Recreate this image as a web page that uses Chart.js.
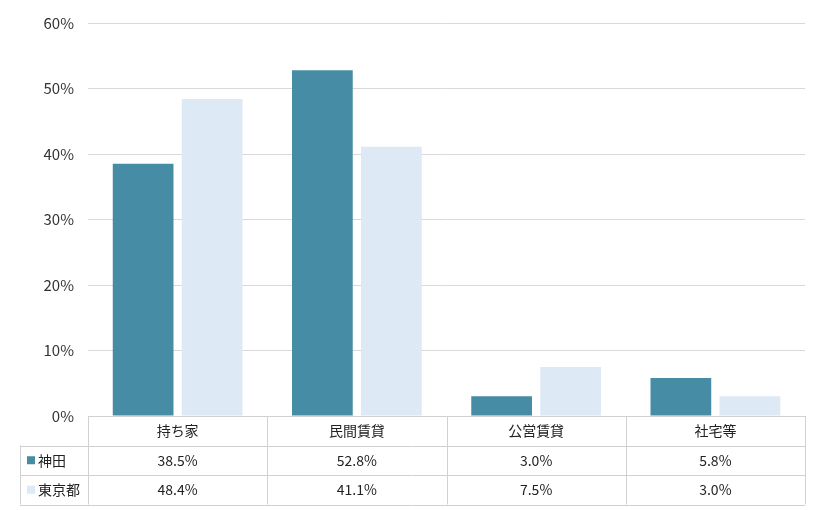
<!DOCTYPE html>
<html><head><meta charset="utf-8">
<script src="https://cdn.jsdelivr.net/npm/chart.js@4"></script>
<style>body{margin:0;background:#fff}#wrap{width:820px;height:510px}</style>
</head><body><div id="wrap"><canvas id="c"></canvas></div>
<script>
const categories = ['持ち家', '民間賃貸', '公営賃貸', '社宅等'];
const kandaValues = [38.5, 52.8, 3.0, 5.8];
const tokyoValues = [48.4, 41.1, 7.5, 3.0];
const seriesNames = ['神田', '東京都'];
const colors = ['#468CA4', '#DDE9F5'];
const FONT = '"Noto Sans CJK JP", "Noto Sans", sans-serif';

const tablePlugin = {
  id: 'dataTable',
  afterDraw(chart) {
    const ctx = chart.ctx, x = chart.scales.x, area = chart.chartArea;
    const top = area.bottom, rowH = 29.5;
    const left = area.left, right = area.right, labelLeft = 20;
    const step = (right - left) / categories.length;
    ctx.save();
    ctx.strokeStyle = '#d0d0d0';
    ctx.lineWidth = 1;
    ctx.beginPath();
    for (let i = 0; i <= categories.length; i++) {
      const px = Math.round(left + step * i) + 0.5;
      ctx.moveTo(px, top); ctx.lineTo(px, top + rowH * 3);
    }
    ctx.moveTo(left, top + 0.5); ctx.lineTo(right, top + 0.5);
    for (let r = 1; r <= 3; r++) {
      const py = Math.round(top + rowH * r) + 0.5;
      ctx.moveTo(labelLeft, py); ctx.lineTo(right, py);
    }
    ctx.moveTo(labelLeft + 0.5, top + rowH); ctx.lineTo(labelLeft + 0.5, top + rowH * 3);
    ctx.stroke();
    ctx.fillStyle = '#222';
    ctx.font = '14px ' + FONT;
    ctx.textAlign = 'center';
    ctx.textBaseline = 'middle';
    categories.forEach((c, i) => {
      const cx = x.getPixelForValue(i);
      ctx.fillText(c, cx, top + rowH * 0.5);
      ctx.fillText(kandaValues[i].toFixed(1) + '%', cx, top + rowH * 1.5);
      ctx.fillText(tokyoValues[i].toFixed(1) + '%', cx, top + rowH * 2.5);
    });
    ctx.textAlign = 'left';
    seriesNames.forEach((n, r) => {
      const cy = top + rowH * (r + 1.5);
      ctx.fillStyle = colors[r];
      ctx.fillRect(27, cy - 4, 8, 8);
      ctx.fillStyle = '#222';
      ctx.fillText(n, 38, cy);
    });
    ctx.restore();
  }
};

new Chart(document.getElementById('c'), {
  type: 'bar',
  data: {
    labels: categories,
    datasets: [
      { label: seriesNames[0], data: kandaValues, backgroundColor: colors[0] },
      { label: seriesNames[1], data: tokyoValues, backgroundColor: colors[1] }
    ]
  },
  options: {
    responsive: true, maintainAspectRatio: false, animation: false,
    layout: { padding: { top: 8, right: 15, bottom: 94, left: 0 } },
    datasets: { bar: { categoryPercentage: 0.77, barPercentage: 0.88 } },
    plugins: { legend: { display: false }, tooltip: { enabled: false } },
    scales: {
      x: { display: false },
      y: {
        min: 0, max: 60,
        afterFit(s) { s.width = 88; },
        border: { display: false },
        grid: { color: '#d9d9d9', drawTicks: false },
        ticks: { stepSize: 10, padding: 14, color: '#333', font: { size: 15, family: FONT }, callback: v => v + '%' }
      }
    }
  },
  plugins: [tablePlugin]
});
</script></body></html>
